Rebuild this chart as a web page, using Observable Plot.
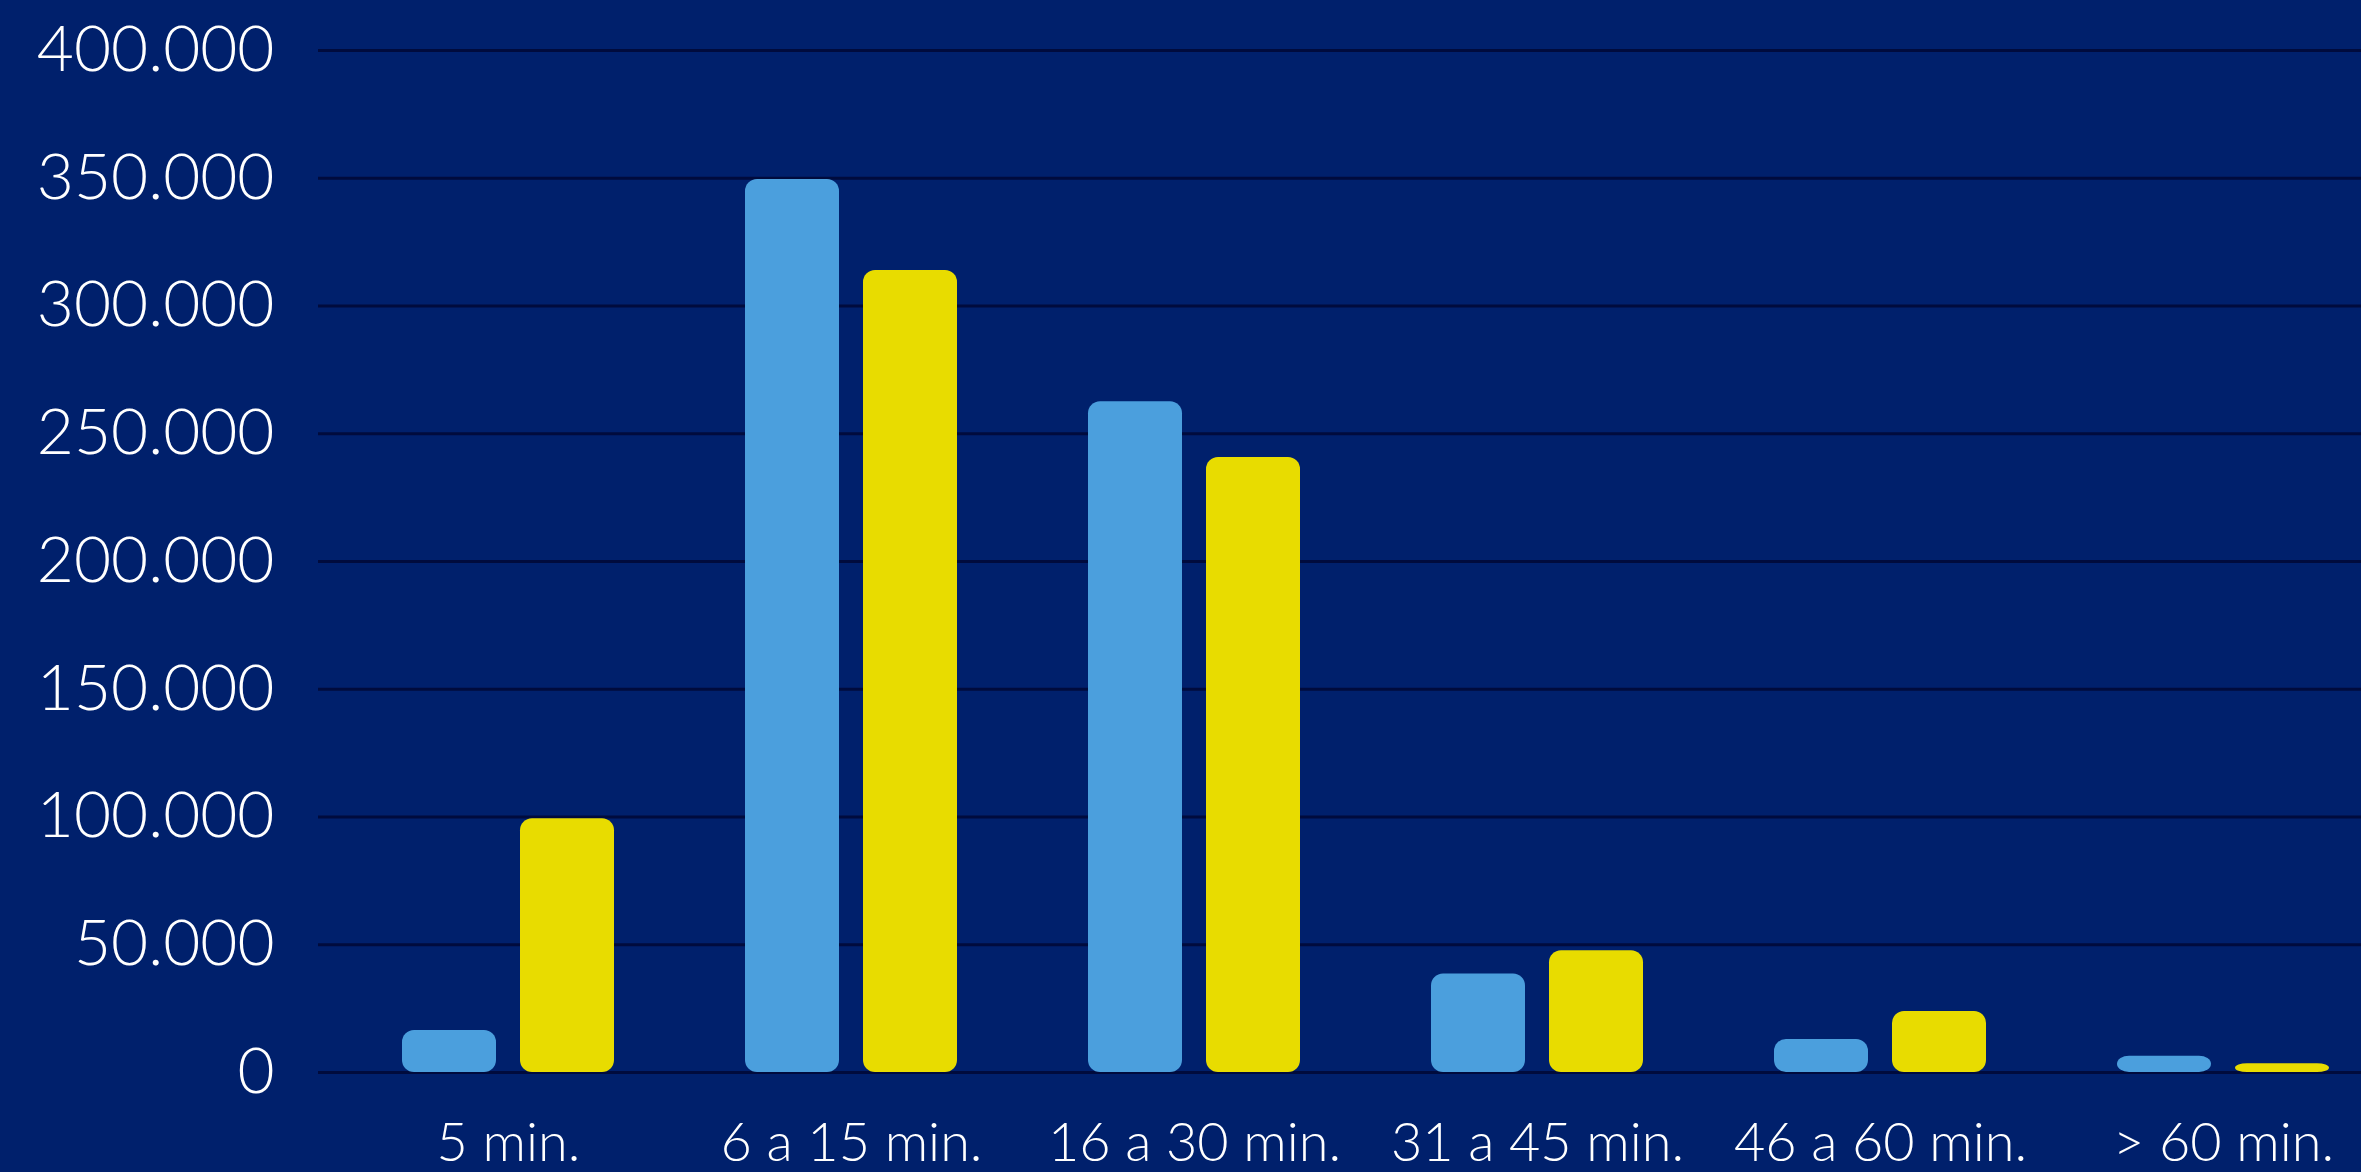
<!DOCTYPE html>
<html>
<head>
<meta charset="utf-8">
<script src="https://cdn.jsdelivr.net/npm/d3@7"></script>
<script src="https://cdn.jsdelivr.net/npm/@observablehq/plot@0.6"></script>
<style>
  html, body { margin: 0; padding: 0; background: #00206c; overflow: hidden; }
  #chart { width: 2361px; height: 1172px; }
</style>
</head>
<body>
<div id="chart"></div>
<script>
const categories = ["5 min.", "6 a 15 min.", "16 a 30 min.", "31 a 45 min.", "46 a 60 min.", "> 60 min."];
const seriesBlue = [16400, 349500, 262500, 38600, 12900, 6400];
const seriesYellow = [99300, 313900, 240700, 47700, 23900, 3400];
const yTicks = [0, 50000, 100000, 150000, 200000, 250000, 300000, 350000, 400000];

const blueData = categories.map((c, i) => ({category: c, value: seriesBlue[i]}));
const yellowData = categories.map((c, i) => ({category: c, value: seriesYellow[i]}));

const fmt = d3.formatLocale({decimal: ",", thousands: ".", grouping: [3], currency: ["", "€"]}).format(",d");

const chart = Plot.plot({
  width: 2361,
  height: 1172,
  marginLeft: 318,
  marginRight: 0,
  marginTop: 50,
  marginBottom: 100,
  style: {background: "#00206c", color: "white", fontFamily: "Lato, 'Open Sans', sans-serif", fontWeight: 300, overflow: "visible"},
  x: {domain: categories, paddingInner: 0.383, paddingOuter: 0.1644, align: 0.726, label: null},
  y: {domain: [0, 400000], label: null},
  marks: [
    Plot.ruleY(yTicks, {stroke: "#000b3d", strokeWidth: 3}),
    Plot.barY(blueData, {x: "category", y: "value", fill: "#4b9fdd", insetRight: 118, rx: 12}),
    Plot.barY(yellowData, {x: "category", y: "value", fill: "#e8dc00", insetLeft: 118, rx: 12}),
    Plot.axisY({ticks: yTicks, tickFormat: fmt, tickSize: 0, tickPadding: 44, fontSize: 64, label: null}),
    Plot.axisX({tickSize: 0, tickPadding: 50, fontSize: 54, label: null})
  ]
});
document.getElementById("chart").appendChild(chart);
</script>
</body>
</html>
